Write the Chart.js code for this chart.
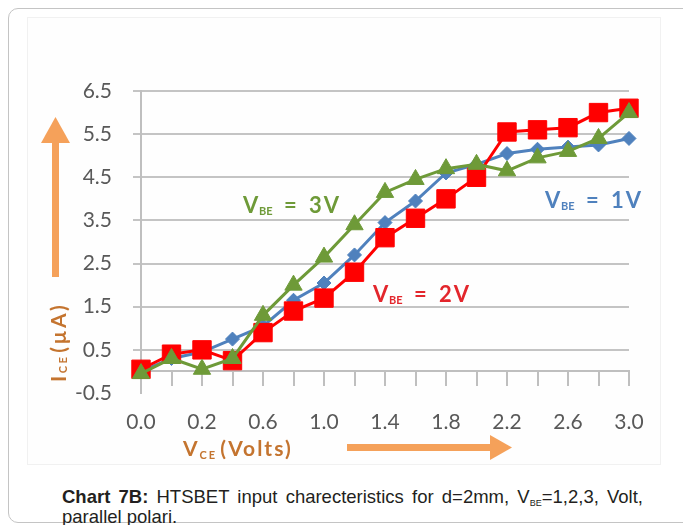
<!DOCTYPE html>
<html>
<head>
<meta charset="utf-8">
<script src="https://cdn.jsdelivr.net/npm/chart.js@4.4.0/dist/chart.umd.min.js"></script>
<style>
html,body{margin:0;padding:0;background:#fff;width:683px;height:525px;overflow:hidden;}
#frame{position:absolute;left:8px;top:8px;width:690px;height:515px;border:1px solid #c4c4c4;border-radius:10px;box-sizing:border-box;}
#img{position:absolute;left:27px;top:17px;width:634px;height:448px;border:1px solid #f1f1f1;box-sizing:border-box;background:#fefefe;}
#wrap{position:absolute;left:0;top:0;width:683px;height:470px;}
.cap{position:absolute;left:62px;font-family:"Liberation Sans",Arial,sans-serif;font-size:18.5px;line-height:20px;color:#231f20;white-space:nowrap;}
#cap1{top:487px;width:581px;text-align:justify;text-align-last:justify;}
#cap2{top:507px;}
.sub{font-size:9px;vertical-align:-3px;line-height:0;}
</style>
</head>
<body>
<div id="frame"></div>
<div id="img"></div>
<div id="wrap"><canvas id="c" width="683" height="470"></canvas></div>
<div class="cap" id="cap1"><b>Chart 7B:</b> HTSBET input charecteristics for d=2mm, V<span class="sub">BE</span>=1,2,3, Volt,</div>
<div class="cap" id="cap2">parallel polari.</div>
<script>
// ---- data ----
const categories = ['0.0','0.1','0.2','0.4','0.6','0.8','1.0','1.2','1.4','1.6','1.8','2.0','2.2','2.4','2.6','2.8','3.0'];
const shownXLabels = ['0.0','0.2','0.6','1.0','1.4','1.8','2.2','2.6','3.0'];
const vbe1V = [0.0, 0.3, 0.45, 0.75, 1.05, 1.65, 2.05, 2.7, 3.45, 3.95, 4.6, 4.8, 5.05, 5.15, 5.2, 5.25, 5.4];
const vbe2V = [0.05, 0.4, 0.5, 0.25, 0.9, 1.4, 1.7, 2.3, 3.1, 3.55, 4.0, 4.5, 5.55, 5.6, 5.65, 6.0, 6.1];
const vbe3V = [-0.05, 0.3, 0.05, 0.3, 1.3, 2.0, 2.65, 3.4, 4.15, 4.45, 4.7, 4.8, 4.65, 4.95, 5.1, 5.4, 6.0];
const yTicks = [-0.5, 0.5, 1.5, 2.5, 3.5, 4.5, 5.5, 6.5];
const seriesNames = ['1V', '2V', '3V'];

const BLUE = '#4f81bd', RED = '#ff0000', GREEN = '#6e9a38', ORANGE_TXT = '#c4742f', ORANGE_ARROW = '#f5a15a';

function drawVbe(ctx, x, y, val, color) {
  ctx.save();
  ctx.fillStyle = color;
  ctx.textAlign = 'left';
  ctx.textBaseline = 'alphabetic';
  ctx.font = 'bold 22px Lato';
  ctx.fillText('V', x, y);
  ctx.font = 'bold 11px Lato';
  ctx.fillText('BE', x + 16, y + 2);
  ctx.font = 'bold 22px Lato';
  ctx.fillText('=', x + 41, y);
  ctx.letterSpacing = '2px';
  ctx.fillText(val, x + 66, y);
  ctx.restore();
}

const annot = {
  id: 'annot',
  afterDraw(chart) {
    const ctx = chart.ctx;
    drawVbe(ctx, 243, 213, seriesNames[2], GREEN);
    drawVbe(ctx, 373, 302, seriesNames[1], '#e3262c');
    drawVbe(ctx, 545, 208, seriesNames[0], BLUE);

    // y axis title with arrow
    ctx.save();
    ctx.fillStyle = ORANGE_ARROW;
    ctx.fillRect(52, 142, 7, 135);
    ctx.beginPath();
    ctx.moveTo(41, 143); ctx.lineTo(55.5, 117); ctx.lineTo(70, 143); ctx.closePath();
    ctx.fill();
    ctx.translate(59, 331);
    ctx.rotate(-Math.PI / 2);
    ctx.fillStyle = ORANGE_TXT;
    ctx.textBaseline = 'middle';
    ctx.textAlign = 'left';
    ctx.letterSpacing = '2.5px';
    ctx.font = 'bold 21px Lato';
    let x0 = -51;
    ctx.fillText('I', x0, 0);
    x0 += ctx.measureText('I').width;
    ctx.font = 'bold 11px Lato';
    ctx.fillText('CE', x0, 4);
    x0 += ctx.measureText('CE').width + 2;
    ctx.font = 'bold 21px Lato';
    ctx.fillText('(\u00b5A)', x0, 0);
    ctx.restore();

    // x axis title with arrow
    ctx.save();
    ctx.fillStyle = ORANGE_TXT;
    ctx.textBaseline = 'alphabetic';
    ctx.textAlign = 'left';
    ctx.letterSpacing = '2px';
    ctx.font = 'bold 21px Lato';
    let x1 = 183;
    ctx.fillText('V', x1, 456);
    x1 += ctx.measureText('V').width;
    ctx.font = 'bold 11px Lato';
    ctx.fillText('CE', x1, 459);
    x1 += ctx.measureText('CE').width + 3;
    ctx.font = 'bold 21px Lato';
    ctx.fillText('(Volts)', x1, 456);
    ctx.fillStyle = ORANGE_ARROW;
    ctx.fillRect(347, 444, 145, 7);
    ctx.beginPath();
    ctx.moveTo(490, 435); ctx.lineTo(512, 447.5); ctx.lineTo(490, 460); ctx.closePath();
    ctx.fill();
    ctx.restore();
  }
};

new Chart(document.getElementById('c'), {
  type: 'line',
  data: {
    labels: categories,
    datasets: [
      { label: 'VBE = 1V', data: vbe1V, borderColor: BLUE, backgroundColor: BLUE, borderWidth: 3,
        pointStyle: 'rectRot', pointRadius: 7, pointBorderWidth: 1, order: 3 },
      { label: 'VBE = 2V', data: vbe2V, borderColor: RED, backgroundColor: RED, borderWidth: 3,
        pointStyle: 'rect', pointRadius: 13, pointBorderWidth: 1, order: 2 },
      { label: 'VBE = 3V', data: vbe3V, borderColor: GREEN, backgroundColor: GREEN, borderWidth: 3,
        pointStyle: 'triangle', pointRadius: 10, pointBorderWidth: 1, order: 1 }
    ]
  },
  options: {
    responsive: false,
    animation: false,
    layout: { padding: { left: 61, right: 54, top: 91, bottom: 77 } },
    plugins: { legend: { display: false }, tooltip: { enabled: false } },
    scales: {
      x: {
        type: 'category',
        position: { y: 0 },
        offset: false,
        grid: { drawOnChartArea: false, drawTicks: true, tickLength: 14, color: '#bfbfbf', lineWidth: 2 },
        border: { color: '#bfbfbf', width: 2 },
        ticks: {
          autoSkip: false, maxRotation: 0, minRotation: 0, padding: 24, color: '#595959',
          font: { family: 'Lato', size: 21 },
          callback: function (v, i) { const l = categories[i]; return shownXLabels.includes(l) ? l : ''; }
        }
      },
      y: {
        min: -0.5, max: 6.5,
        afterBuildTicks: s => { s.ticks = yTicks.map(v => ({ value: v })); },
        afterFit: s => { s.width = 80; },
        grid: {
          color: c => (c.tick && c.tick.value === -0.5) ? 'rgba(0,0,0,0)' : '#c4c4c4',
          lineWidth: 2, tickLength: 8, drawTicks: true
        },
        border: { color: '#bfbfbf', width: 2 },
        ticks: { padding: 21, color: '#595959', font: { family: 'Lato', size: 21 },
          callback: v => Number(v).toFixed(1) }
      }
    }
  },
  plugins: [annot]
});
</script>
</body>
</html>
